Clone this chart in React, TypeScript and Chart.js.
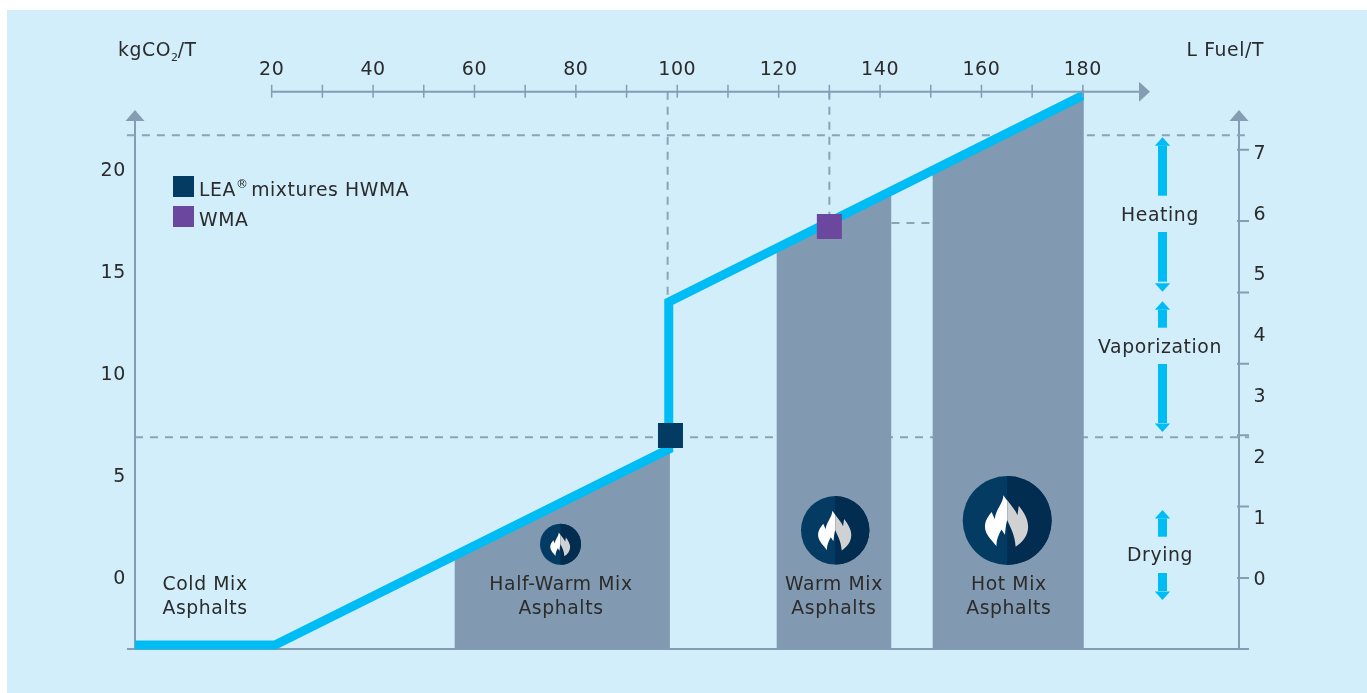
import React, { useEffect, useRef } from "react";
import { Chart, registerables } from "chart.js";

Chart.register(...registerables);

// ---- data (x: L Fuel/T on the top scale, y: kgCO2/T on the left scale) ----
const fuelMin = -6.96;
const fuelMax = 210.8;
const co2Min = -3.48;
const co2Max = 23.84;
const co2LabelMin = -3.41;
const co2LabelMax = 23.91;
const fuelRightMin = -1.135;
const fuelRightMax = 8.02;

const energyX = [-6.96, 20.65, 98.32, 98.32, 181];
const energyY = [-3.28, -3.28, 6.32, 13.53, 23.78];

const halfWarmX = [56.05, 98.56];
const halfWarmY = [1.1, 6.37];
const warmX = [119.56, 142.25];
const warmY = [16.18, 19.0];
const hotX = [150.33, 180.2];
const hotY = [20.0, 23.69];

const leaX = [98.66];
const leaY = [6.99];
const wmaX = [130.0];
const wmaY = [17.23];

const guideTopY = 21.7;
const guideMidY = 6.9;
const guideWarmY = 17.4;
const guideLeaX = 98.1;
const guideWmaX = 130.0;

const rightMarks = [0, 3.5, 7, 10.5, 14, 17.5, 21];
const topMarks = [20, 30, 40, 50, 60, 70, 80, 90, 100, 110, 120, 130, 140, 150, 160, 170, 180];
const leftUnit = ["kgCO", "2", "/T"];
const rightUnit = "L Fuel/T";
const legendLabels = ["LEA", "®", " mixtures HWMA", "WMA"];

const mixNames = [
  ["Cold Mix", "Asphalts"],
  ["Half-Warm Mix", "Asphalts"],
  ["Warm Mix", "Asphalts"],
  ["Hot Mix", "Asphalts"],
];
const mixNameX = [6.86, 77.06, 130.9, 165.4];
const stageNames = ["Heating", "Vaporization", "Drying"];
const stageNameY = [17.75, 11.27, 1.08];

const FONT = '"DejaVu Sans", sans-serif';
const TEXT_SIZE = 18.8;
const INK = "#2b2b2b";
const AXIS = "#849db3";
const DASH = "#8aa3b8";
const BLUE = "#00bcf5";
const GREY = "#819ab1";
const NAVY = "#043b63";
const PURPLE = "#6b479d";

const zip = (xs: number[], ys: number[]) => xs.map((x, i) => ({ x, y: ys[i] }));

function flamePath(ctx: CanvasRenderingContext2D, cx: number, cy: number, r: number) {
  const p = (x: number, y: number): [number, number] => [cx + x * r, cy + y * r];
  const c = (a: number, b: number, d: number, e: number, f: number, g: number) =>
    ctx.bezierCurveTo(...p(a, b), ...p(d, e), ...p(f, g));
  ctx.beginPath();
  ctx.moveTo(...p(-0.087, -0.57));
  c(-0.08, -0.4, -0.26, -0.25, -0.28, -0.03);
  ctx.lineTo(...p(-0.35, -0.19));
  c(-0.42, -0.1, -0.5, 0.0, -0.5, 0.14);
  c(-0.5, 0.32, -0.33, 0.45, -0.24, 0.58);
  c(-0.25, 0.44, -0.2, 0.34, -0.13, 0.2);
  ctx.lineTo(...p(-0.05, 0.32));
  c(-0.04, 0.2, -0.03, 0.1, 0, -0.01);
  c(0.06, 0.14, 0.17, 0.3, 0.19, 0.59);
  c(0.36, 0.48, 0.47, 0.33, 0.47, 0.14);
  c(0.47, -0.04, 0.36, -0.2, 0.26, -0.33);
  ctx.lineTo(...p(0.23, -0.12));
  c(0.18, -0.25, 0.03, -0.4, -0.087, -0.57);
  ctx.closePath();
}

function drawFlameBadge(ctx: CanvasRenderingContext2D, cx: number, cy: number, r: number) {
  ctx.save();
  ctx.beginPath();
  ctx.arc(cx, cy, r, 0, Math.PI * 2);
  ctx.fillStyle = NAVY;
  ctx.fill();
  ctx.beginPath();
  ctx.arc(cx, cy, r, -Math.PI / 2, Math.PI / 2);
  ctx.closePath();
  ctx.fillStyle = "#022c50";
  ctx.fill();
  ctx.save();
  ctx.beginPath();
  ctx.rect(cx - r, cy - r, r, 2 * r);
  ctx.clip();
  flamePath(ctx, cx, cy, r);
  ctx.fillStyle = "#ffffff";
  ctx.fill();
  ctx.restore();
  ctx.save();
  ctx.beginPath();
  ctx.rect(cx, cy - r, r, 2 * r);
  ctx.clip();
  flamePath(ctx, cx, cy, r);
  ctx.fillStyle = "#d0d1d3";
  ctx.fill();
  ctx.restore();
  ctx.restore();
}

const chartDecor = {
  id: "chartDecor",
  beforeDraw(chart: any) {
    const ctx = chart.ctx;
    ctx.save();
    ctx.fillStyle = "#ffffff";
    ctx.fillRect(0, 0, chart.width, chart.height);
    ctx.fillStyle = "#d1eefa";
    ctx.fillRect(7, 10, chart.width - 7, chart.height - 10);
    ctx.restore();
    (ctx as any).letterSpacing = "0.6px";
  },
  beforeDatasetsDraw(chart: any) {
    const ctx = chart.ctx;
    const { x, y } = chart.scales;
    const L = x.left;
    const R = x.right;
    const B = y.bottom;
    ctx.save();
    ctx.strokeStyle = AXIS;
    ctx.fillStyle = AXIS;
    ctx.lineWidth = 2;
    ctx.beginPath();
    ctx.moveTo(L - 8, B);
    ctx.lineTo(R + 10, B);
    for (const ax of [L, R]) {
      ctx.moveTo(ax, B);
      ctx.lineTo(ax, 120);
    }
    for (const m of rightMarks) {
      const py = y.getPixelForValue(m);
      ctx.moveTo(R - 2, py);
      ctx.lineTo(R + 10, py);
    }
    ctx.stroke();
    for (const ax of [L, R]) {
      ctx.beginPath();
      ctx.moveTo(ax, 110);
      ctx.lineTo(ax + 9.5, 121);
      ctx.lineTo(ax - 9.5, 121);
      ctx.closePath();
      ctx.fill();
    }
    ctx.restore();
  },
  afterDatasetsDraw(chart: any) {
    const ctx = chart.ctx;
    const { x, y } = chart.scales;
    const T = x.bottom;

    // top axis
    ctx.save();
    ctx.strokeStyle = AXIS;
    ctx.fillStyle = AXIS;
    ctx.lineWidth = 2;
    ctx.beginPath();
    ctx.moveTo(x.getPixelForValue(topMarks[0]), T);
    ctx.lineTo(1140, T);
    ctx.stroke();
    ctx.lineWidth = 1.5;
    ctx.beginPath();
    for (const m of topMarks) {
      const px = x.getPixelForValue(m);
      ctx.moveTo(px, T - 7);
      ctx.lineTo(px, T + 6);
    }
    ctx.stroke();
    ctx.beginPath();
    ctx.moveTo(1150, T);
    ctx.lineTo(1139, T - 10);
    ctx.lineTo(1139, T + 10);
    ctx.closePath();
    ctx.fill();
    ctx.restore();

    // process stage arrows
    ctx.save();
    ctx.fillStyle = BLUE;
    const ax = 1162.5;
    const shaft = (a: number, b: number) => ctx.fillRect(ax - 4.5, a, 9, b - a);
    const up = (tip: number) => {
      ctx.beginPath();
      ctx.moveTo(ax, tip);
      ctx.lineTo(ax + 7.7, tip + 8.5);
      ctx.lineTo(ax - 7.7, tip + 8.5);
      ctx.closePath();
      ctx.fill();
    };
    const down = (tip: number) => {
      ctx.beginPath();
      ctx.moveTo(ax, tip);
      ctx.lineTo(ax + 7.7, tip - 8.5);
      ctx.lineTo(ax - 7.7, tip - 8.5);
      ctx.closePath();
      ctx.fill();
    };
    up(137.3);
    shaft(145.7, 195.7);
    shaft(232, 281.7);
    down(291.7);
    up(301.3);
    shaft(309.8, 327.7);
    shaft(364, 423);
    down(432);
    up(510);
    shaft(518.5, 536.7);
    shaft(573, 591);
    down(600);
    ctx.restore();

    // flame badges
    drawFlameBadge(ctx, 560.5, 544.2, 20.5);
    drawFlameBadge(ctx, 835.2, 530.3, 34.2);
    drawFlameBadge(ctx, 1007.2, 520.5, 44.5);

    // texts
    ctx.save();
    ctx.fillStyle = INK;
    ctx.font = `${TEXT_SIZE}px ${FONT}`;
    ctx.textBaseline = "middle";
    ctx.textAlign = "center";
    mixNames.forEach((lines, i) => {
      const px = x.getPixelForValue(mixNameX[i]);
      ctx.fillText(lines[0], px, 585);
      ctx.fillText(lines[1], px, 609);
    });
    stageNames.forEach((s, i) => {
      ctx.fillText(s, 1160, y.getPixelForValue(stageNameY[i]));
    });

    // unit titles
    ctx.textAlign = "left";
    ctx.fillText(leftUnit[0], 118, 51.5);
    let w = ctx.measureText(leftUnit[0]).width;
    ctx.font = `11px ${FONT}`;
    ctx.fillText(leftUnit[1], 118 + w, 58);
    const w2 = ctx.measureText(leftUnit[1]).width;
    ctx.font = `${TEXT_SIZE}px ${FONT}`;
    ctx.fillText(leftUnit[2], 118 + w + w2 - 1, 51.5);
    ctx.textAlign = "right";
    ctx.fillText(rightUnit, 1264, 51);

    // legend
    ctx.textAlign = "left";
    ctx.fillStyle = NAVY;
    ctx.fillRect(173, 176, 21, 21);
    ctx.fillStyle = PURPLE;
    ctx.fillRect(173, 206, 21, 21);
    ctx.fillStyle = INK;
    ctx.fillText(legendLabels[0], 199, 191);
    w = ctx.measureText(legendLabels[0]).width;
    ctx.font = `12px ${FONT}`;
    ctx.fillText(legendLabels[1], 199 + w, 185);
    const w3 = ctx.measureText(legendLabels[1]).width;
    ctx.font = `${TEXT_SIZE}px ${FONT}`;
    ctx.fillText(legendLabels[2], 199 + w + w3 - 4, 191);
    ctx.fillText(legendLabels[3], 199, 221);
    ctx.restore();
  },
};

const dashLine = (data: { x: number; y: number }[]) => ({
  data,
  borderColor: DASH,
  borderWidth: 2,
  borderDash: [8, 7],
  pointRadius: 0,
  fill: false,
  order: 10,
  clip: { left: 20, top: 0, right: 20, bottom: 0 },
});

const mixFill = (xs: number[], ys: number[]) => ({
  data: zip(xs, ys),
  borderWidth: 0,
  borderColor: "transparent",
  backgroundColor: GREY,
  pointRadius: 0,
  fill: { value: co2Min },
  order: 5,
  clip: { left: 0, top: 10, right: 0, bottom: 0 },
});

const marker = (xs: number[], ys: number[], color: string) => ({
  data: zip(xs, ys),
  showLine: false,
  pointStyle: "rect",
  pointRadius: 17.68,
  pointBorderWidth: 0,
  pointBackgroundColor: color,
  pointBorderColor: color,
  order: 0,
});

export default function App() {
  const ref = useRef<HTMLCanvasElement | null>(null);
  useEffect(() => {
    if (!ref.current) return;
    const tickFont = { family: FONT, size: 19 };
    const chart = new Chart(ref.current, {
      type: "line",
      data: {
        datasets: [
          dashLine(zip([fuelMin - 1.6, fuelMax + 2], [guideTopY, guideTopY])),
          dashLine(zip([fuelMin, fuelMax + 2], [guideMidY, guideMidY])),
          dashLine(zip([142.25, 150.33], [guideWarmY, guideWarmY])),
          dashLine(zip([guideLeaX, guideLeaX], [co2Max, guideMidY])),
          dashLine(zip([guideWmaX, guideWmaX], [co2Max, wmaY[0]])),
          mixFill(halfWarmX, halfWarmY),
          mixFill(warmX, warmY),
          mixFill(hotX, hotY),
          {
            data: zip(energyX, energyY),
            borderColor: BLUE,
            borderWidth: 9,
            borderJoinStyle: "miter",
            pointRadius: 0,
            fill: false,
            order: 2,
            clip: { left: 0, top: 20, right: -155, bottom: 5 },
          },
          marker(leaX, leaY, NAVY),
          marker(wmaX, wmaY, PURPLE),
        ] as any,
      },
      options: {
        responsive: false,
        animation: false,
        devicePixelRatio: 1,
        layout: { padding: { left: 0, right: 0, top: 0, bottom: 44 } },
        plugins: { legend: { display: false }, tooltip: { enabled: false } },
        scales: {
          x: {
            type: "linear",
            position: "top",
            min: fuelMin,
            max: fuelMax,
            afterFit: (s: any) => {
              s.height = 91.7;
            },
            grid: { display: false },
            border: { display: false },
            ticks: {
              stepSize: 10,
              includeBounds: false,
              autoSkip: false,
              maxRotation: 0,
              font: tickFont,
              color: INK,
              padding: 2,
              callback: (v: any) => (v >= 20 && v <= 180 && v % 20 === 0 ? String(v) : ""),
            },
          },
          y: {
            type: "linear",
            display: false,
            position: "left",
            min: co2Min,
            max: co2Max,
          },
          co2Labels: {
            type: "linear",
            position: "left",
            min: co2LabelMin,
            max: co2LabelMax,
            afterFit: (s: any) => {
              s.width = 135;
            },
            grid: { display: false },
            border: { display: false },
            ticks: {
              stepSize: 5,
              includeBounds: false,
              font: tickFont,
              color: INK,
              padding: 1,
            },
          },
          y2: {
            type: "linear",
            position: "right",
            min: fuelRightMin,
            max: fuelRightMax,
            afterFit: (s: any) => {
              s.width = 128;
            },
            grid: { display: false },
            border: { display: false },
            ticks: {
              stepSize: 1,
              includeBounds: false,
              font: tickFont,
              color: INK,
              padding: 6.5,
              callback: (v: any) => (v >= 0 && v <= 7 ? String(v) : ""),
            },
          },
        },
      } as any,
      plugins: [chartDecor],
    });
    return () => chart.destroy();
  }, []);
  return (
    <canvas
      ref={ref}
      width={1367}
      height={693}
      style={{ position: "absolute", left: 0, top: 0, width: 1367, height: 693, display: "block" }}
    />
  );
}
